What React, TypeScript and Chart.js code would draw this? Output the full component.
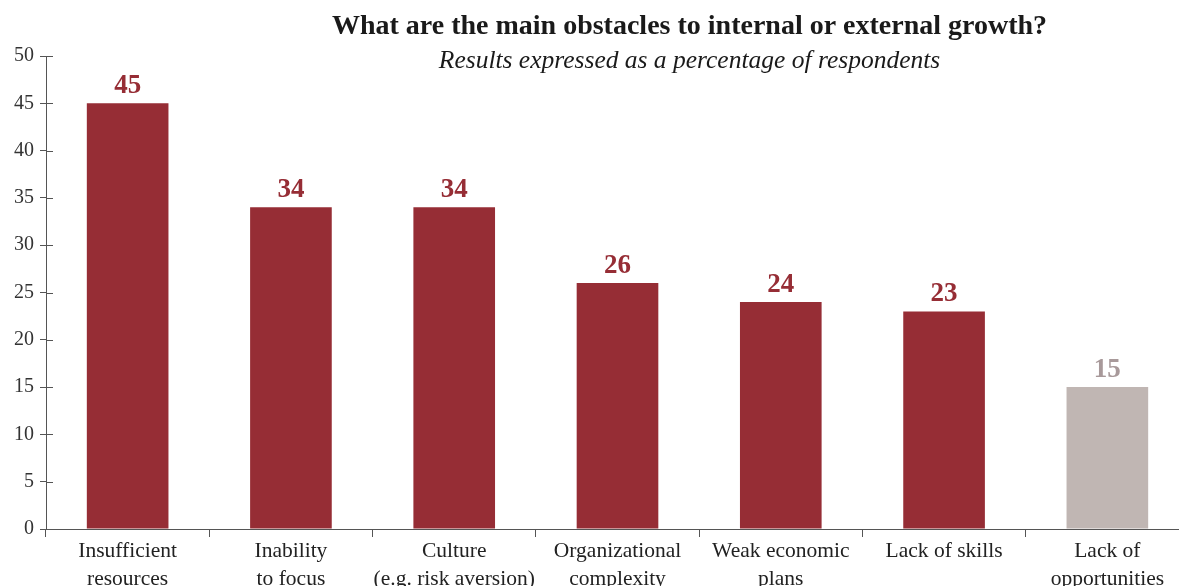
import React, { useEffect, useRef } from "react";
import { Chart, registerables } from "chart.js";

Chart.register(...registerables);

const categories: string[][] = [
  ["Insufficient", "resources"],
  ["Inability", "to focus"],
  ["Culture", "(e.g. risk aversion)"],
  ["Organizational", "complexity"],
  ["Weak economic", "plans"],
  ["Lack of skills"],
  ["Lack of", "opportunities"],
];
const values: number[] = [45, 34, 34, 26, 24, 23, 15];
const barColors: string[] = ["#962d35", "#962d35", "#962d35", "#962d35", "#962d35", "#962d35", "#c0b6b3"];
const labelColors: string[] = ["#962d35", "#962d35", "#962d35", "#962d35", "#962d35", "#962d35", "#a8999a"];
const titleText = "What are the main obstacles to internal or external growth?";
const subtitleText = "Results expressed as a percentage of respondents";

const FONT = "'Liberation Serif', 'DejaVu Serif', serif";

const valueLabelPlugin = {
  id: "valueLabels",
  afterDatasetsDraw(chart: any) {
    const ctx = chart.ctx;
    const meta = chart.getDatasetMeta(0);
    ctx.save();
    ctx.font = `bold 27px ${FONT}`;
    ctx.textAlign = "center";
    ctx.textBaseline = "alphabetic";
    meta.data.forEach((bar: any, i: number) => {
      ctx.fillStyle = labelColors[i];
      ctx.fillText(String(values[i]), bar.x, bar.y - 10);
    });
    ctx.restore();
  },
};

const titlePlugin = {
  id: "customTitle",
  afterDraw(chart: any) {
    const ctx = chart.ctx;
    const cx = chart.chartArea.left + (chart.chartArea.right - chart.chartArea.left) * 0.563;
    ctx.save();
    ctx.fillStyle = "#1a1a1a";
    ctx.textAlign = "center";
    ctx.textBaseline = "middle";
    ctx.font = `bold 28px ${FONT}`;
    ctx.fillText(titleText, cx, 27);
    ctx.font = `italic 25.5px ${FONT}`;
    ctx.fillText(subtitleText, cx, 61);
    ctx.restore();
  },
};

const innerTickPlugin = {
  id: "innerTicks",
  afterDraw(chart: any) {
    const ctx = chart.ctx;
    const y = chart.scales.y;
    ctx.save();
    ctx.strokeStyle = "#555";
    ctx.lineWidth = 1;
    y.ticks.forEach((t: any) => {
      const py = Math.round(y.getPixelForValue(t.value)) + 0.5;
      ctx.beginPath();
      ctx.moveTo(y.right, py);
      ctx.lineTo(y.right + 7, py);
      ctx.stroke();
    });
    ctx.restore();
  },
};

export default function App() {
  const ref = useRef<HTMLCanvasElement>(null);
  useEffect(() => {
    if (!ref.current) return;
    const chart = new Chart(ref.current, {
      type: "bar",
      data: {
        labels: categories,
        datasets: [
          {
            data: values,
            backgroundColor: barColors,
            barPercentage: 0.5,
            categoryPercentage: 1,
          },
        ],
      },
      options: {
        responsive: false,
        animation: false,
        layout: { padding: { top: 56, right: 0, left: 0, bottom: 0 } },
        plugins: { legend: { display: false }, tooltip: { enabled: false }, title: { display: false } },
        scales: {
          x: {
            offset: true,
            grid: { display: true, drawOnChartArea: false, tickLength: 8, color: "#555", offset: true },
            border: { display: true, color: "#555" },
            ticks: {
              color: "#222",
              padding: 1,
              font: { family: FONT, size: 21.5, lineHeight: 1.27 },
              maxRotation: 0,
              autoSkip: false,
            },
            afterFit(scale: any) {
              scale.height = 57;
            },
          },
          y: {
            min: 0,
            max: 50,
            ticks: { stepSize: 5, color: "#333", padding: 6, font: { family: FONT, size: 20 } },
            grid: { display: true, drawOnChartArea: false, tickLength: 6, color: "#555" },
            border: { display: true, color: "#555" },
            afterFit(scale: any) {
              scale.width = 46;
            },
          },
        },
      },
      plugins: [valueLabelPlugin, titlePlugin, innerTickPlugin],
    });
    return () => chart.destroy();
  }, []);
  return (
    <div style={{ position: "absolute", left: 0, top: 0, width: 1179, height: 586, overflow: "hidden", background: "#fff" }}>
      <canvas ref={ref} width={1189} height={586} style={{ width: 1189, height: 586 }} />
    </div>
  );
}
